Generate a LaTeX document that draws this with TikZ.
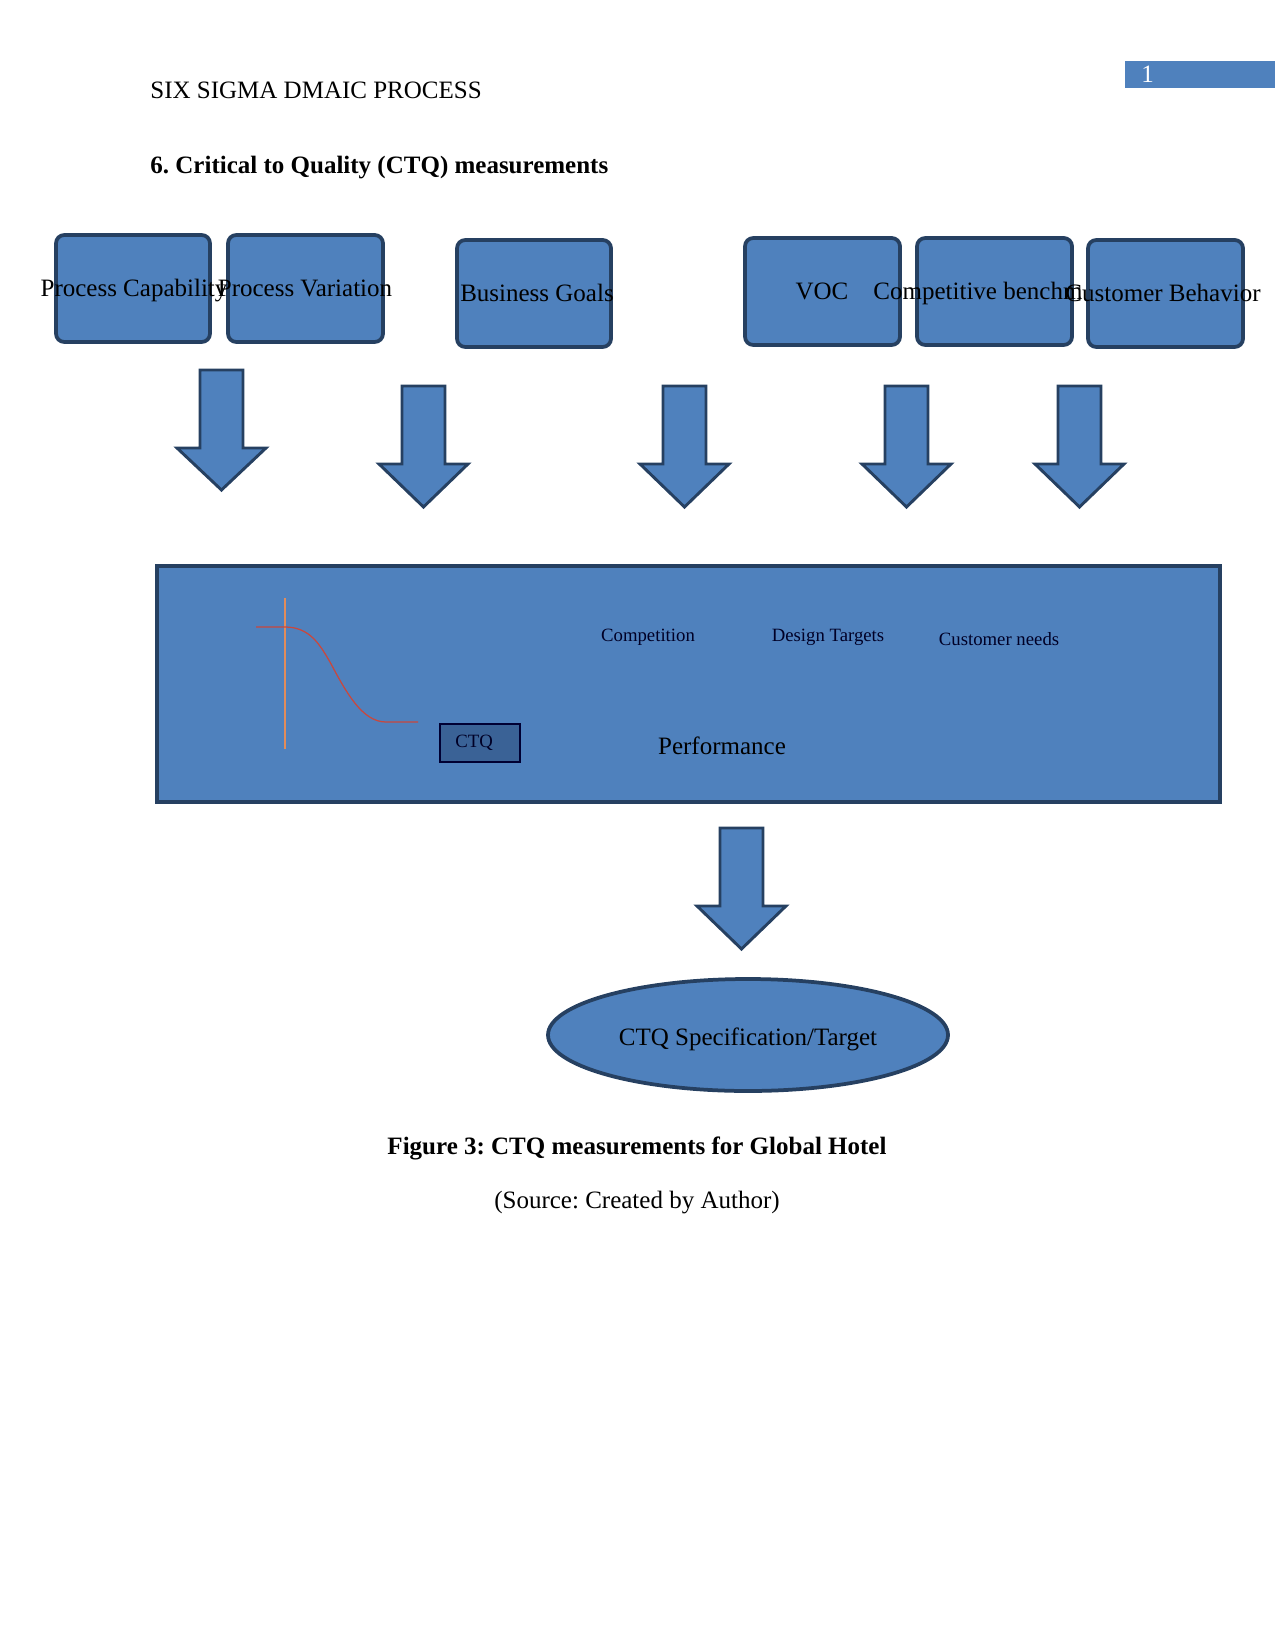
\documentclass[tikz,border=0pt]{standalone}
\usepackage{fontspec}
\setmainfont{Liberation Serif}
\frenchspacing
\usetikzlibrary{shapes.geometric}
\definecolor{boxblue}{RGB}{79,129,189}
\definecolor{boxedge}{RGB}{38,64,97}
\definecolor{ctqfill}{RGB}{58,98,150}
\definecolor{axisline}{RGB}{226,140,90}
\definecolor{curvered}{RGB}{200,72,62}
\tikzset{
  topbox/.style={draw=boxedge,fill=boxblue,line width=1.8pt,rounded corners=4pt},
  blockarrow/.style={draw=boxedge,fill=boxblue,line width=1.4pt,line join=miter},
  lbl/.style={font=\fontsize{12}{14}\selectfont,inner sep=0pt,anchor=base},
  small/.style={font=\fontsize{9}{11}\selectfont,inner sep=0pt,anchor=base,text=black!85!blue},
}
\begin{document}
\begin{tikzpicture}[x=0.48pt,y=-0.48pt]
\useasboundingbox (0,0) rectangle (1275,1650);
% header
\node[lbl,anchor=base west] (hdr) at (150,99) {SIX SIGMA DMAIC PROCESS};
\fill[boxblue] (1125,61) rectangle (1275,88);
\node[lbl,anchor=base west,text=white] (pg) at (1141,83) {1};
\node[lbl,anchor=base west,font=\fontsize{12}{14}\selectfont\bfseries] (ttl) at (150,174) {6. Critical to Quality (CTQ) measurements};
% top boxes
\draw[topbox] (56,235) rectangle (210,342);
\draw[topbox] (228,235) rectangle (383,342);
\draw[topbox] (457,240) rectangle (611,347);
\draw[topbox] (745,238) rectangle (900,345);
\draw[topbox] (917,238) rectangle (1072,345);
\draw[topbox] (1088,240) rectangle (1243,347);
\node[lbl] (pc) at (134,297) {Process Capability};
\node[lbl] (pv) at (305,297) {Process Variation};
\node[lbl] (bg) at (537,302) {Business Goals};
\node[lbl] (voc) at (822,300) {VOC};
\node[lbl,anchor=base west] (cb) at (873,300) {Competitive benchm};
\node[lbl] (cust) at (1163,302) {Customer Behavior};
% block arrows
\foreach \cx/\ya/\yb/\yc in {221.5/370/448/490, 423.5/386/464/507, 684.5/386/464/507, 906.5/386/464/507, 1079.5/386/464/507, 741.5/828/906/949}{
  \draw[blockarrow] (\cx-21.5,\ya) -- (\cx+21.5,\ya) -- (\cx+21.5,\yb) -- (\cx+44.5,\yb) -- (\cx,\yc) -- (\cx-44.5,\yb) -- (\cx-21.5,\yb) -- cycle;
}
% big rectangle
\draw[draw=boxedge,fill=boxblue,line width=1.6pt] (157,566) rectangle (1220,802);
% curve
\draw[axisline,line width=0.6pt] (285,598) -- (285,749);
\draw[curvered,line width=0.6pt] (256,627) -- (285,627) .. controls (310,627) and (320,645) .. (330,662) .. controls (346,692) and (362,722) .. (386,722) -- (418,722);
% CTQ box
\draw[draw=black!80!blue,fill=ctqfill,line width=0.6pt] (440,724) rectangle (520,762);
\node[small,anchor=base west] (ctq) at (455,747) {CTQ};
\node[small] (comp) at (648,641) {Competition};
\node[small] (dt) at (828,641) {Design Targets};
\node[small] (cn) at (999,645) {Customer needs};
\node[lbl] (perf) at (722,754) {Performance};
% ellipse
\node[ellipse,draw=boxedge,fill=boxblue,line width=1.8pt,minimum width=400*0.48pt,minimum height=112*0.48pt,inner sep=0pt] (spec) at (748,1035) {};
\node[lbl] (spect) at (748,1045) {CTQ Specification/Target};
% caption
\node[lbl,font=\fontsize{12}{14}\selectfont\bfseries] (cap) at (637,1154) {Figure 3: CTQ measurements for Global Hotel};
\node[lbl] (src) at (637,1208) {(Source: Created by Author)};
\end{tikzpicture}
\end{document}
